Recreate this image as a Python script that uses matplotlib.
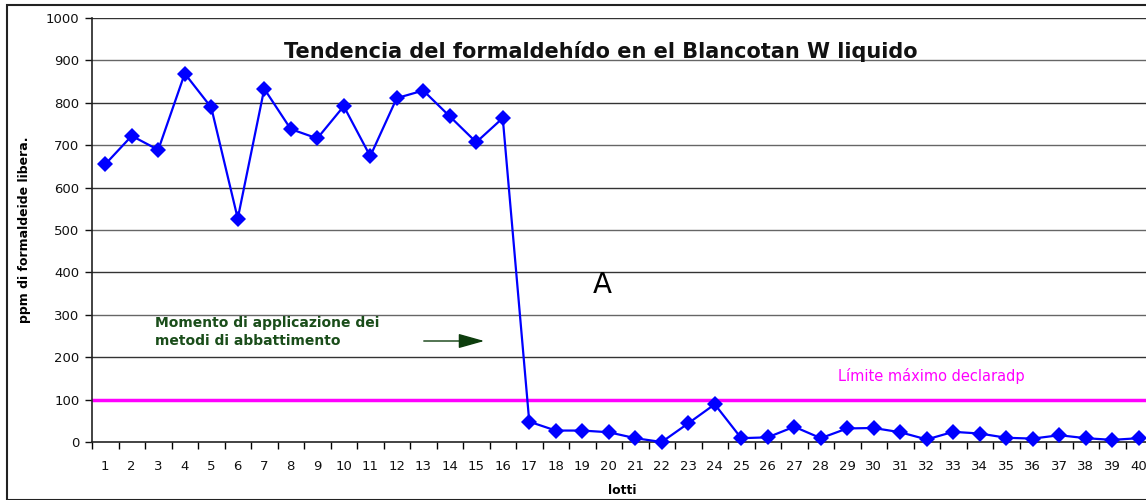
import matplotlib
matplotlib.use("Agg")
import matplotlib.pyplot as plt
from matplotlib.patches import Rectangle

plt.rcParams["font.family"] = ["DejaVu Sans"]

# valori
lotti = list(range(1, 41))
ppm = [655, 722, 689, 869, 789, 527, 833, 738, 716, 792,
       674, 811, 829, 768, 707, 764, 48, 27, 27, 23,
       9, 0, 44, 89, 9, 11, 36, 9, 32, 33,
       23, 6, 24, 20, 10, 8, 16, 9, 5, 9]
limite = 100
y_ticks = list(range(0, 1001, 100))

fig = plt.figure(figsize=(11.46, 5.0), dpi=100)
ax = fig.add_axes([92 / 1146, 58 / 500, 1060 / 1146, 424 / 500])

# griglia orizzontale
for y in y_ticks[1:]:
    ax.axhline(y, color="#333333" if y % 200 == 0 else "#666666", lw=1.0, zorder=1)

ax.axhline(limite, color="#ff00ff", lw=2.5, zorder=2)
ax.plot(lotti, ppm, color="#0000ff", lw=1.6, marker="D", markersize=8,
        markeredgewidth=0, zorder=3, clip_on=False)

ax.set_xlim(0.5, 40.5)
ax.set_ylim(0, 1000)
ax.set_yticks(y_ticks)
ax.set_xticks(lotti)
ax.set_xticks([i + 0.5 for i in range(0, 41)], minor=True)
ax.tick_params(axis="x", which="major", length=0, pad=13, labelsize=9.5, colors="#111111")
ax.tick_params(axis="x", which="minor", length=5, width=1, direction="out")
ax.tick_params(axis="y", length=5, width=1, pad=4, labelsize=9.5, colors="#111111")
for s in ["top", "right"]:
    ax.spines[s].set_visible(False)
ax.spines["left"].set_linewidth(1.2)
ax.spines["bottom"].set_linewidth(1.2)
ax.spines["left"].set_color("#222222")
ax.spines["bottom"].set_color("#222222")

ax.set_xlabel("lotti", fontsize=9, fontweight="bold", labelpad=8)
ax.set_ylabel("ppm di formaldeide libera.", fontsize=9, fontweight="bold", labelpad=11)

fig.text(601 / 1146, 1 - 52 / 500, "Tendencia del formaldehído en el Blancotan W liquido",
         ha="center", va="center", fontsize=15, fontweight="bold", color="#111111")
fig.text(602 / 1146, 1 - 285 / 500, "A", ha="center", va="center", fontsize=20)
fig.text(155 / 1146, 1 - 332 / 500, "Momento di applicazione dei\nmetodi di abbattimento",
         ha="left", va="center", fontsize=10, fontweight="bold", color="#1a4d1a",
         linespacing=1.35)
fig.text(838 / 1146, 1 - 376 / 500, "Límite máximo declaradp", ha="left", va="center",
         fontsize=10.5, color="#ff00ff")

ax.annotate("", xy=(487 / 1146, 1 - 341 / 500), xytext=(421 / 1146, 1 - 341 / 500),
            xycoords="figure fraction",
            arrowprops=dict(arrowstyle="-|>,head_length=1.6,head_width=0.45",
                            color="#0d3d0d", lw=1.0))

# cornice esterna
fig.patches.append(Rectangle((7 / 1146, 0), 1.2, 1 - 5 / 500, transform=fig.transFigure,
                             fill=False, edgecolor="#222222", lw=1.5))

fig.savefig("out.png", dpi=100)
